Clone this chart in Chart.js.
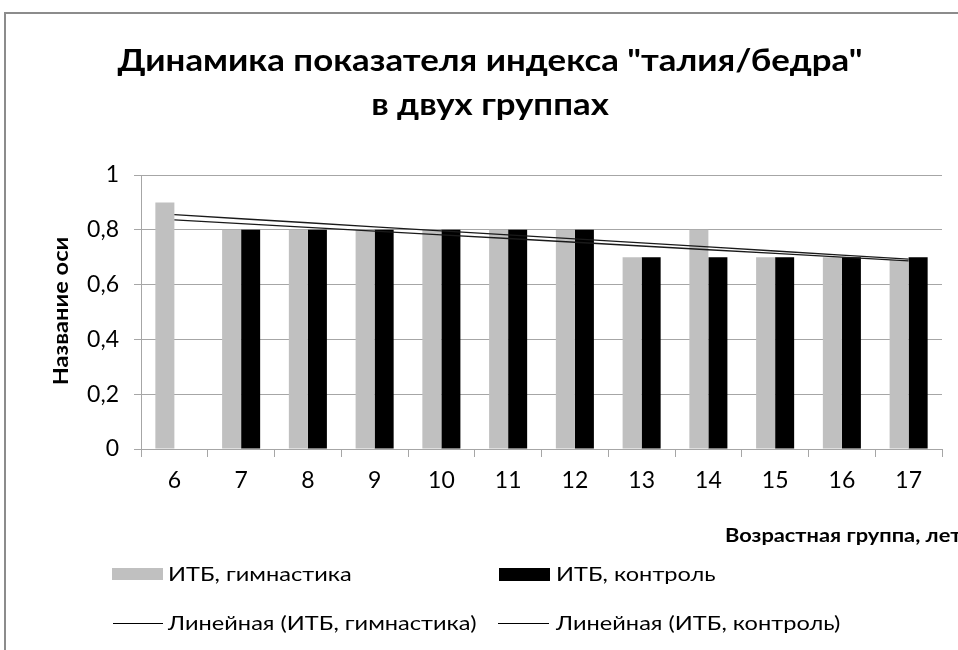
<!DOCTYPE html>
<html>
<head>
<meta charset="utf-8">
<script src="https://cdn.jsdelivr.net/npm/chart.js@4.4.1/dist/chart.umd.min.js"></script>
<style>
html,body{margin:0;padding:0;background:#fff;overflow:hidden}
#wrap{position:relative;width:958px;height:650px}
</style>
</head>
<body>
<div id="wrap"><canvas id="c" width="958" height="650"></canvas></div>
<script>
// ---- data ----
const categories = ['6','7','8','9','10','11','12','13','14','15','16','17'];
const gymnastics = [0.9,0.8,0.8,0.8,0.8,0.8,0.8,0.7,0.8,0.7,0.7,0.69];
const control    = [null,0.8,0.8,0.8,0.8,0.8,0.8,0.7,0.7,0.7,0.7,0.7];
const yTicks = [0,0.2,0.4,0.6,0.8,1];
const seriesNames = ['ИТБ, гимнастика','ИТБ, контроль'];
const trendNames = ['Линейная (ИТБ, гимнастика)','Линейная (ИТБ, контроль)'];
const titleLines = ['Динамика показателя индекса "талия/бедра"','в двух группах'];
const yTitle = 'Название оси';
const xTitle = 'Возрастная группа, лет';

// least-squares linear trend (like Excel "Linear" trendline)
function linearTrend(vals){
  const pts = vals.map((v,i)=>[i+1,v]).filter(p=>p[1]!==null);
  const n = pts.length;
  const mx = pts.reduce((s,p)=>s+p[0],0)/n;
  const my = pts.reduce((s,p)=>s+p[1],0)/n;
  let sxy=0,sxx=0;
  pts.forEach(p=>{sxy+=(p[0]-mx)*(p[1]-my);sxx+=(p[0]-mx)*(p[0]-mx);});
  const b = sxy/sxx, a = my-b*mx;
  return vals.map((_,i)=>a+b*(i+1));
}

const FONT = 'Lato, "Noto Sans", sans-serif';
const GRID = '#a6a6a6';
const SX = 1.18; // horizontal text stretch

function sText(ctx,text,x,y,align){
  ctx.save();
  ctx.translate(x,y);
  ctx.scale(SX,1);
  ctx.textAlign=align;
  ctx.fillText(text,0,0);
  ctx.restore();
}

const decor = {
  id:'decor',
  beforeDraw(chart){
    const ctx = chart.ctx;
    ctx.save();
    ctx.fillStyle='#fff';
    ctx.fillRect(0,0,chart.width,chart.height);
    ctx.strokeStyle='#8c8c8c';
    ctx.lineWidth=2;
    ctx.strokeRect(5,13,1200,1200);
    ctx.restore();
  },
  afterDraw(chart){
    const ctx = chart.ctx;
    ctx.save();
    ctx.fillStyle='#000';
    ctx.textBaseline='middle';
    ctx.font='bold 29.5px '+FONT;
    sText(ctx,titleLines[0],490,61,'center');
    sText(ctx,titleLines[1],490,105,'center');
    // y title
    ctx.save();
    ctx.translate(62,311);
    ctx.rotate(-Math.PI/2);
    ctx.font='bold 20px '+FONT;
    sText(ctx,yTitle,0,0,'center');
    ctx.restore();
    // x title
    ctx.font='bold 18.5px '+FONT;
    sText(ctx,xTitle,725,536,'left');
    // legend
    ctx.font='20px '+FONT;
    ctx.fillStyle='#c0c0c0';
    ctx.fillRect(112,568,51,12);
    ctx.fillStyle='#000';
    ctx.fillRect(499,568,51,13);
    sText(ctx,seriesNames[0],168,575,'left');
    sText(ctx,seriesNames[1],556,575,'left');
    ctx.strokeStyle='#000';
    ctx.lineWidth=1;
    ctx.beginPath();
    ctx.moveTo(113,623.5);ctx.lineTo(163,623.5);
    ctx.moveTo(498,623.5);ctx.lineTo(549,623.5);
    ctx.stroke();
    sText(ctx,trendNames[0],168,624,'left');
    sText(ctx,trendNames[1],556,624,'left');
    ctx.restore();
  }
};

new Chart(document.getElementById('c'),{
  type:'bar',
  data:{
    labels:categories,
    datasets:[
      {type:'line',label:trendNames[0],data:linearTrend(gymnastics),borderColor:'#1a1a1a',borderWidth:1.3,pointRadius:0,fill:false,order:0},
      {type:'line',label:trendNames[1],data:linearTrend(control),borderColor:'#1a1a1a',borderWidth:1.3,pointRadius:0,fill:false,order:0},
      {label:seriesNames[0],data:gymnastics,backgroundColor:'#c0c0c0',categoryPercentage:0.57,barPercentage:1,order:1},
      {label:seriesNames[1],data:control,backgroundColor:'#000000',categoryPercentage:0.57,barPercentage:1,order:1}
    ]
  },
  options:{
    responsive:false,
    animation:false,
    devicePixelRatio:1,
    layout:{padding:{top:175,bottom:150,left:0,right:16}},
    plugins:{legend:{display:false},title:{display:false},tooltip:{enabled:false}},
    scales:{
      x:{
        offset:true,
        grid:{offset:true,drawOnChartArea:false,drawTicks:true,tickLength:8,color:GRID},
        border:{display:true,color:GRID},
        ticks:{color:'#000',font:{family:FONT,size:23},padding:10},
        afterFit(s){s.height=51;}
      },
      y:{
        min:0,max:1,
        grid:{color:GRID,tickLength:7},
        border:{display:true,color:GRID},
        ticks:{color:'#000',font:{family:FONT,size:23},padding:15,
          callback:v=>String(v).replace('.',',')},
        afterBuildTicks(s){s.ticks=yTicks.map(v=>({value:v}));},
        afterFit(s){s.width=141;}
      }
    }
  },
  plugins:[decor]
});
</script>
</body>
</html>
